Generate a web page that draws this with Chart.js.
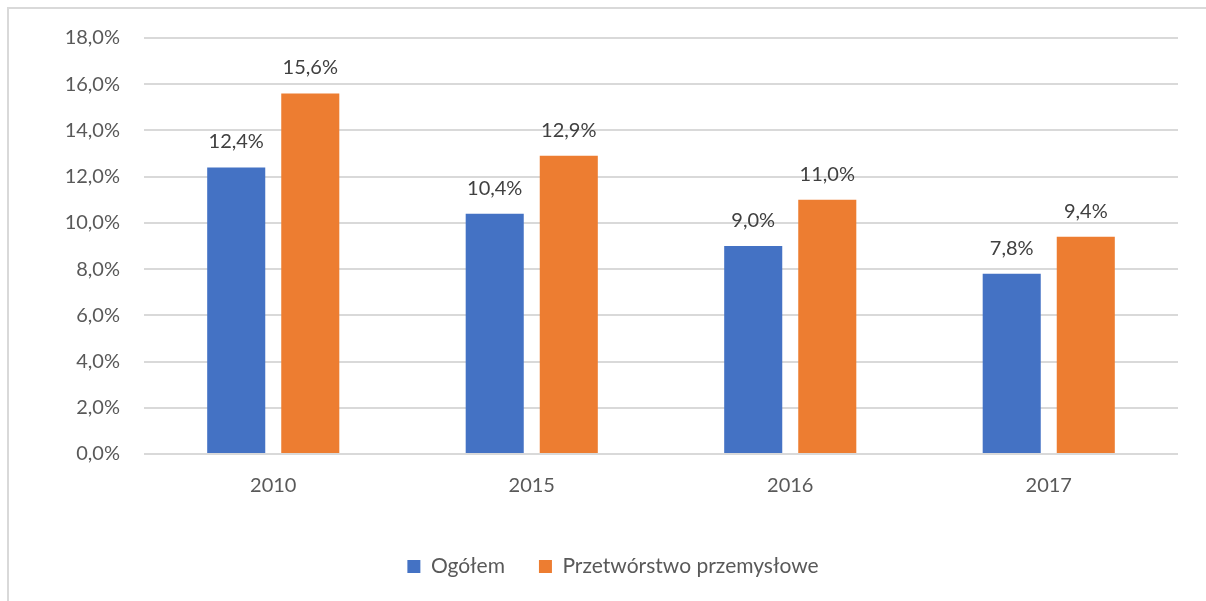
<!DOCTYPE html>
<html>
<head>
<meta charset="utf-8">
<script src="https://cdn.jsdelivr.net/npm/chart.js@4/dist/chart.umd.min.js"></script>
<style>
  html, body { margin: 0; padding: 0; background: #fff; overflow: hidden; }
  #wrap { position: relative; width: 1206px; height: 601px; }
  #frame { position: absolute; left: 7px; top: 7px; width: 1220px; height: 620px;
           border-left: 2px solid #d9d9d9; border-top: 2px solid #d9d9d9; pointer-events: none; }
</style>
</head>
<body>
<div id="wrap">
  <canvas id="chart" width="1206" height="601"></canvas>
  <div id="frame"></div>
</div>
<script>
// ---- Data ----
const years = ["2010", "2015", "2016", "2017"];
const ogolem = [12.4, 10.4, 9.0, 7.8];
const przetworstwo = [15.6, 12.9, 11.0, 9.4];
const seriesNames = ["Ogółem", "Przetwórstwo przemysłowe"];

const FONT = "Lato, 'Open Sans', sans-serif";
const fmt = v => v.toFixed(1).replace(".", ",") + "%";

// labels above each bar
const barLabels = {
  id: "barLabels",
  afterDatasetsDraw(chart) {
    const ctx = chart.ctx;
    ctx.save();
    ctx.font = "20px " + FONT;
    ctx.fillStyle = "#404040";
    ctx.textAlign = "center";
    ctx.textBaseline = "alphabetic";
    chart.data.datasets.forEach((ds, i) => {
      chart.getDatasetMeta(i).data.forEach((bar, j) => {
        ctx.fillText(fmt(ds.data[j]), bar.x, bar.y - 19);
      });
    });
    ctx.restore();
  }
};

// nudge the legend a bit right, like the original
const legendShift = {
  id: "legendShift",
  afterLayout(chart) {
    if (chart.legend) {
      chart.legend.left += 24;
      chart.legend.right += 24;
    }
  }
};

new Chart(document.getElementById("chart"), {
  type: "bar",
  data: {
    labels: years,
    datasets: [
      { label: seriesNames[0], data: ogolem, backgroundColor: "#4472C4" },
      { label: seriesNames[1], data: przetworstwo, backgroundColor: "#ED7D31" }
    ]
  },
  options: {
    responsive: false,
    animation: false,
    datasets: { bar: { categoryPercentage: 0.573, barPercentage: 0.784 } },
    layout: { padding: { left: 0, right: 28, top: 38, bottom: 14 } },
    plugins: {
      legend: {
        position: "bottom",
        labels: {
          color: "#595959",
          font: { family: FONT, size: 21 },
          boxWidth: 13,
          boxHeight: 13,
          padding: 34
        }
      },
      tooltip: { enabled: false }
    },
    scales: {
      x: {
        grid: { display: false },
        border: { display: false },
        ticks: { color: "#595959", font: { family: FONT, size: 20 }, padding: 12 },
        afterFit(s) { s.height = 68; }
      },
      y: {
        min: 0, max: 18,
        grid: { color: "#d9d9d9", lineWidth: 2, drawTicks: false },
        border: { display: false },
        ticks: { stepSize: 2, color: "#595959", font: { family: FONT, size: 20 }, padding: 24, callback: v => fmt(v) },
        afterFit(s) { s.width = 144; }
      }
    }
  },
  plugins: [barLabels, legendShift]
});
</script>
</body>
</html>
